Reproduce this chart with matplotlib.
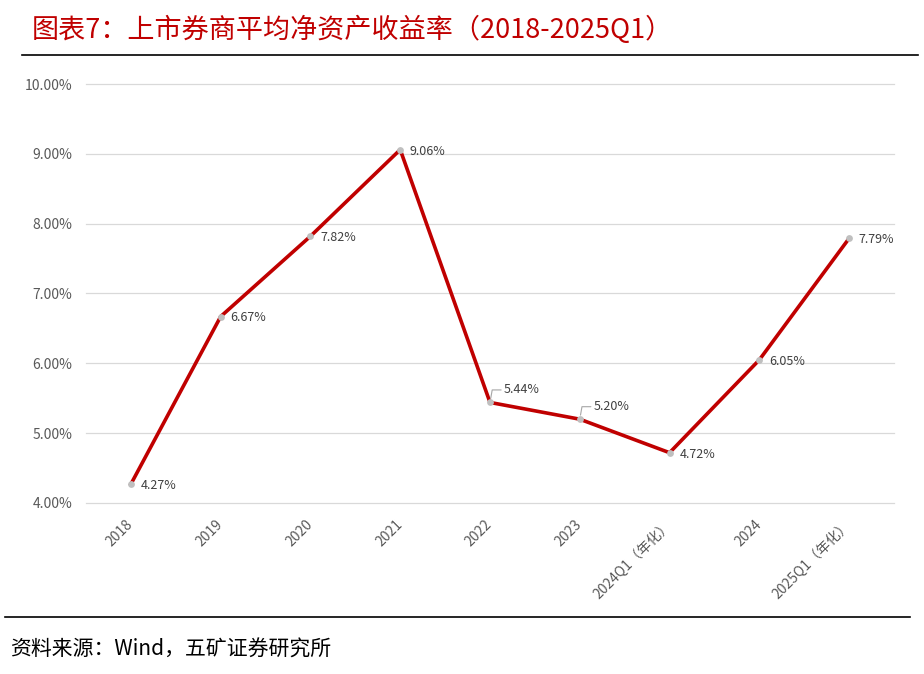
import matplotlib
matplotlib.use("Agg")
import matplotlib.pyplot as plt
from matplotlib.lines import Line2D

plt.rcParams["font.family"] = ["Noto Sans CJK SC", "DejaVu Sans"]

TITLE = "图表7：上市券商平均净资产收益率（2018-2025Q1）"
SOURCE = "资料来源：Wind，五矿证券研究所"
CATEGORIES = ["2018", "2019", "2020", "2021", "2022", "2023",
              "2024Q1（年化）", "2024", "2025Q1（年化）"]
ROE = [4.27, 6.67, 7.82, 9.06, 5.44, 5.20, 4.72, 6.05, 7.79]
Y_TICKS = [4, 5, 6, 7, 8, 9, 10]
LEADER_IDX = [4, 5]   # labels drawn above-right with a small leader line

RED = "#C00000"
GREY_TXT = "#595959"

W, H = 924, 674
fig = plt.figure(figsize=(W / 100, H / 100), dpi=100)
ax = fig.add_axes([86 / W, 1 - 503 / H, (894 - 86) / W, (503 - 84) / H])

x = list(range(len(CATEGORIES)))
ax.plot(x, ROE, color=RED, lw=2.6, zorder=3, solid_joinstyle="round")
ax.scatter(x, ROE, s=24, color="#BFBFBF", zorder=4, linewidths=0)

for i, v in enumerate(ROE):
    lab = f"{v:.2f}%"
    if i in LEADER_IDX:
        ax.annotate(lab, (i, v), xytext=(10, 9), textcoords="offset points",
                    fontsize=9, color="#404040", va="center", ha="left",
                    arrowprops=dict(arrowstyle="-", color="#A6A6A6", lw=0.8,
                                    shrinkA=0, shrinkB=3,
                                    connectionstyle="angle,angleA=0,angleB=80,rad=0"),
                    zorder=5)
    else:
        ax.annotate(lab, (i, v), xytext=(7, -1), textcoords="offset points",
                    fontsize=9, color="#404040", va="center", ha="left", zorder=5)

ax.set_xlim(-0.5, len(CATEGORIES) - 0.5)
ax.set_ylim(4, 10)
ax.set_yticks(Y_TICKS)
ax.set_yticklabels([f"{t:.2f}%" for t in Y_TICKS], color=GREY_TXT, fontsize=10)
ax.set_xticks(x)
ax.set_xticklabels(CATEGORIES, rotation=45, ha="right", va="center",
                   rotation_mode="anchor", color=GREY_TXT, fontsize=10)
ax.tick_params(axis="both", length=0)
ax.tick_params(axis="x", pad=14)
ax.tick_params(axis="y", pad=10)
ax.grid(axis="y", color="#D9D9D9", lw=0.9)
for gl in ax.get_ygridlines():
    gl.set_clip_on(False)
ax.set_axisbelow(True)
for s in ax.spines.values():
    s.set_visible(False)

fig.text(32 / W, 1 - 30 / H, TITLE, color=RED, fontsize=19.5, va="center", ha="left")
fig.add_artist(Line2D([22 / W, 918 / W], [1 - 55 / H] * 2, color="black", lw=1.2))
fig.add_artist(Line2D([5 / W, 910 / W], [1 - 617 / H] * 2, color="black", lw=1.2))
fig.text(10 / W, 1 - 650 / H, SOURCE, color="black", fontsize=15, va="center", ha="left")

fig.savefig("out.png", dpi=100)
